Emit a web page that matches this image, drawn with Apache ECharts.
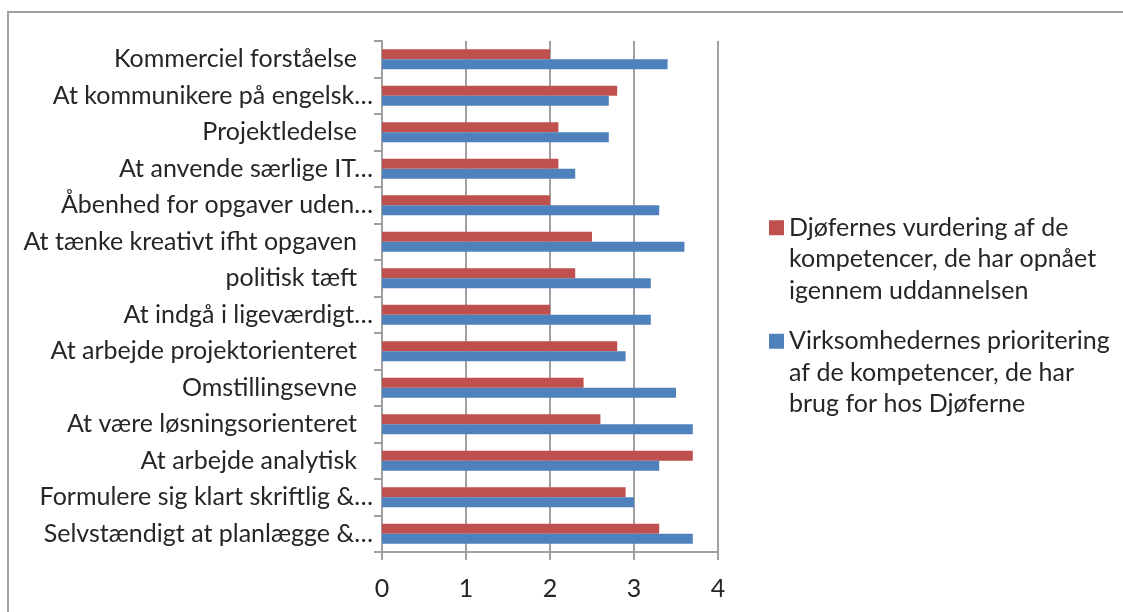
<!DOCTYPE html>
<html>
<head>
<meta charset="utf-8">
<script src="https://cdn.jsdelivr.net/npm/echarts@6/dist/echarts.min.js"></script>
<style>
  html, body { margin: 0; padding: 0; background: #fff; }
  #chart { width: 1123px; height: 612px; }
</style>
</head>
<body>
<div id="chart"></div>
<script>
// kategorier (oppefra og ned)
var categories = [
    'Kommerciel forståelse',
    'At kommunikere på engelsk…',
    'Projektledelse',
    'At anvende særlige IT…',
    'Åbenhed for opgaver uden…',
    'At tænke kreativt ifht opgaven',
    'politisk tæft',
    'At indgå i ligeværdigt…',
    'At arbejde projektorienteret',
    'Omstillingsevne',
    'At være løsningsorienteret',
    'At arbejde analytisk',
    'Formulere sig klart skriftlig &…',
    'Selvstændigt at planlægge &…'
];
var seriesNames = [
    'Djøfernes vurdering af de kompetencer, de har opnået igennem uddannelsen',
    'Virksomhedernes prioritering af de kompetencer, de har brug for hos Djøferne'
];
var legendLines = [
    'Djøfernes vurdering af de\nkompetencer, de har opnået\nigennem uddannelsen',
    'Virksomhedernes prioritering\naf de kompetencer, de har\nbrug for hos Djøferne'
];
var djoefValues = [2.0, 2.8, 2.1, 2.1, 2.0, 2.5, 2.3, 2.0, 2.8, 2.4, 2.6, 3.7, 2.9, 3.3];
var virkValues = [3.4, 2.7, 2.7, 2.3, 3.3, 3.6, 3.2, 3.2, 2.9, 3.5, 3.7, 3.3, 3.0, 3.7];
var xTicks = [0, 1, 2, 3, 4];

(function () {
    var myChart = echarts.init(document.getElementById('chart'));
    var font = 'Lato, "Open Sans", sans-serif';
    var grey = '#a0a0a0';
    var fs = 25;
    // firkant foroven i et højt ikon, så den står ud for første tekstlinje
    var icon = 'path://M0,0h0.01v0.01h-0.01z M0,8h15v15h-15z M0,94h0.01v0.01h-0.01z';

    var option = {
        animation: false,
        color: ['#C0504D', '#4F81BD'],
        textStyle: { fontFamily: font },
        graphic: [{
            type: 'rect',
            shape: { x: 8, y: 12, width: 1200, height: 700 },
            style: { fill: 'none', stroke: grey, lineWidth: 2 },
            silent: true
        }],
        grid: {
            left: 382,
            right: 405,
            top: 41,
            bottom: 60
        },
        legend: {
            orient: 'vertical',
            left: 764,
            top: 207,
            itemWidth: 15,
            itemHeight: 94,
            itemGap: 19,
            icon: icon,
            data: seriesNames,
            formatter: function (name) {
                return legendLines[seriesNames.indexOf(name)];
            },
            textStyle: {
                fontFamily: font,
                fontSize: fs,
                lineHeight: 31.5,
                color: '#262626'
            }
        },
        xAxis: {
            type: 'value',
            min: 0,
            max: 4,
            interval: 1,
            axisLine: { show: true, lineStyle: { color: grey, width: 2 } },
            axisTick: { show: true, length: 8, lineStyle: { color: grey, width: 2 } },
            splitLine: { show: true, lineStyle: { color: grey, width: 2 } },
            axisLabel: {
                margin: 24,
                fontFamily: font,
                fontSize: fs,
                color: '#262626',
                formatter: function (v) {
                    return xTicks.indexOf(v) >= 0 ? String(v) : '';
                }
            }
        },
        yAxis: {
            type: 'category',
            inverse: true,
            data: categories,
            axisLine: { show: true, lineStyle: { color: grey, width: 2 } },
            axisTick: { show: true, length: 8, lineStyle: { color: grey, width: 2 } },
            axisLabel: {
                margin: 9,
                fontFamily: font,
                fontSize: fs,
                color: '#262626',
                // ikke-forkortede etiketter står lidt længere fra aksen
                formatter: function (v) {
                    return v.slice(-1) === '…' ? v : '{p|' + v + '}';
                },
                rich: {
                    p: {
                        fontFamily: font,
                        fontSize: fs,
                        color: '#262626',
                        padding: [0, 16, 0, 0]
                    }
                }
            }
        },
        series: [{
            name: seriesNames[0],
            type: 'bar',
            data: djoefValues,
            barWidth: 10,
            barGap: '0%'
        }, {
            name: seriesNames[1],
            type: 'bar',
            data: virkValues,
            barWidth: 10,
            barGap: '0%'
        }]
    };
    myChart.setOption(option);
})();
</script>
</body>
</html>
